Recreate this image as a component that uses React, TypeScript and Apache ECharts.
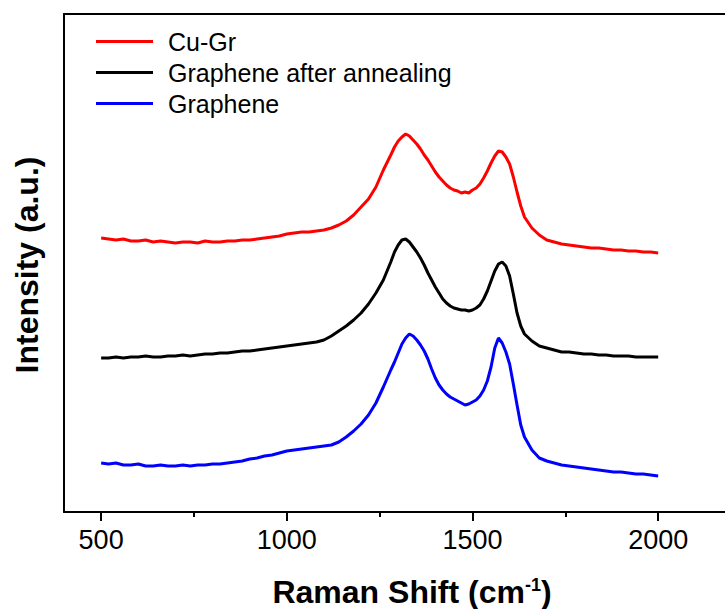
import React, { useEffect, useRef } from "react";
import * as echarts from "echarts";

const FONT = "'Liberation Sans', Arial, Helvetica, sans-serif";

const seriesNames = ["Cu-Gr", "Graphene after annealing", "Graphene"];
const seriesColors = ["#ff0000", "#000000", "#0000ff"];

const xTickLabels = [500, 1000, 1500, 2000];
const xMinorTicks = [750, 1250, 1750];

const shifts = [
  500, 520, 540, 560, 580, 600, 620, 640, 660, 680,
  700, 720, 740, 760, 780, 800, 820, 840, 860, 880,
  900, 920, 940, 960, 980, 1000, 1020, 1040, 1060, 1080,
  1100, 1120, 1140, 1160, 1180, 1200, 1220, 1240, 1260, 1280,
  1290, 1300, 1310, 1320, 1330, 1340, 1350, 1360, 1370, 1380,
  1390, 1400, 1410, 1420, 1430, 1440, 1450, 1460, 1470, 1480,
  1490, 1500, 1510, 1520, 1530, 1540, 1550, 1560, 1570, 1580,
  1590, 1600, 1610, 1620, 1630, 1640,
  1660, 1680, 1700, 1720, 1740, 1760, 1780, 1800, 1820, 1840,
  1860, 1880, 1900, 1920, 1940, 1960, 1980, 2000,
];

const cuGr = [
  274, 273, 272, 273, 271, 271, 272, 270, 271, 270,
  269, 270, 270, 269, 271, 270, 270, 271, 271, 272,
  272, 273, 274, 275, 276, 278, 279, 280, 280, 281,
  282, 284, 287, 291, 297, 305, 313, 325, 342, 357,
  365, 371, 375, 378, 376, 372, 368, 363, 357, 352,
  346, 340, 335, 331, 327, 324, 322, 321, 319, 320,
  319, 322, 324, 328, 334, 341, 349, 356, 361, 360,
  355, 348, 335, 320, 306, 295,
  284, 277, 272, 270, 268, 267, 266, 265, 264, 264,
  263, 262, 262, 261, 261, 260, 260, 259,
];

const grapheneAnnealed = [
  154, 154, 155, 154, 155, 155, 156, 155, 155, 156,
  156, 157, 156, 157, 158, 158, 159, 159, 160, 161,
  161, 162, 163, 164, 165, 166, 167, 168, 169, 170,
  172, 176, 181, 186, 192, 199, 208, 219, 232, 250,
  260, 267, 272, 273, 270, 265, 260, 254, 247, 239,
  232, 225, 219, 213, 209, 206, 204, 203, 202, 202,
  201, 202, 204, 207, 213, 221, 231, 241, 248, 250,
  246, 236, 218, 199, 186, 178,
  171, 166, 164, 162, 160, 160, 159, 158, 158, 157,
  157, 156, 156, 156, 155, 155, 155, 155,
];

const graphene = [
  49, 48, 49, 47, 47, 48, 46, 46, 47, 46,
  46, 47, 46, 47, 47, 48, 48, 49, 50, 51,
  53, 54, 56, 57, 59, 61, 62, 63, 64, 65,
  66, 67, 70, 75, 81, 88, 97, 109, 125, 142,
  150, 159, 168, 174, 178, 176, 172, 167, 161, 153,
  143, 134, 127, 122, 118, 115, 113, 111, 109, 107,
  108, 110, 112, 116, 122, 131, 145, 164, 174, 169,
  160, 148, 128, 107, 87, 75,
  62, 54, 51, 49, 47, 46, 45, 44, 43, 42,
  41, 40, 40, 39, 38, 38, 37, 36,
];

const seriesValues = [cuGr, grapheneAnnealed, graphene];

export default function App() {
  const ref = useRef<HTMLDivElement>(null);

  useEffect(() => {
    if (!ref.current) return;
    const chart = echarts.init(ref.current, undefined, { renderer: "svg" });
    const axisLine = { show: true, lineStyle: { color: "#000", width: 2 } };
    chart.setOption({
      animation: false,
      backgroundColor: "#ffffff",
      grid: { left: 64, right: 0, top: 14, bottom: 97, containLabel: false },
      xAxis: [
        {
          type: "value",
          min: 400,
          max: 2180,
          position: "bottom",
          axisLine,
          splitLine: { show: false },
          axisTick: {
            show: true,
            length: 9,
            inside: false,
            customValues: xTickLabels,
            lineStyle: { color: "#000", width: 2 },
          },
          axisLabel: {
            show: true,
            customValues: xTickLabels,
            formatter: (v: number) => String(v),
            fontSize: 27,
            fontFamily: FONT,
            color: "#000",
            margin: 14,
          },
        },
        {
          type: "value",
          min: 400,
          max: 2180,
          position: "bottom",
          axisLine: { show: false },
          splitLine: { show: false },
          axisTick: {
            show: true,
            length: 5,
            customValues: xMinorTicks,
            lineStyle: { color: "#000", width: 2 },
          },
          axisLabel: { show: false },
        },
        {
          type: "value",
          min: 400,
          max: 2180,
          position: "top",
          axisLine,
          splitLine: { show: false },
          axisTick: { show: false },
          axisLabel: { show: false },
        },
      ],
      yAxis: {
        type: "value",
        min: 0,
        max: 498,
        axisLine,
        axisTick: { show: false },
        axisLabel: { show: false },
        splitLine: { show: false },
      },
      legend: {
        orient: "vertical",
        left: 96,
        top: 26,
        padding: 0,
        icon: "rect",
        itemWidth: 57,
        itemHeight: 3,
        itemGap: 0,
        data: seriesNames,
        textStyle: {
          fontSize: 25,
          fontFamily: FONT,
          color: "#000",
          lineHeight: 31,
          padding: [0, 0, 0, 10],
        },
      },
      graphic: [
        {
          type: "text",
          x: 412,
          y: 592,
          style: {
            text: "{a|Raman Shift (cm}{b|-1}{a|)}",
            textAlign: "center",
            textVerticalAlign: "middle",
            rich: {
              a: { fontSize: 32, fontWeight: "bold", fontFamily: FONT, fill: "#000", color: "#000" },
              b: {
                fontSize: 18,
                fontWeight: "bold",
                fontFamily: FONT,
                fill: "#000",
                color: "#000",
                verticalAlign: "top",
                padding: [0, 0, 14, 0],
              },
            },
          },
        },
        {
          type: "text",
          x: 27,
          y: 265,
          rotation: Math.PI / 2,
          style: {
            text: "Intensity (a.u.)",
            fontSize: 32,
            fontWeight: "bold",
            fontFamily: FONT,
            fill: "#000",
            textAlign: "center",
            textVerticalAlign: "middle",
          },
        },
      ],
      series: seriesNames.map((name, i) => ({
        name,
        type: "line",
        xAxisIndex: 0,
        yAxisIndex: 0,
        symbol: "none",
        showSymbol: false,
        smooth: false,
        data: shifts.map((s, j) => [s, seriesValues[i][j]]),
        lineStyle: { color: seriesColors[i], width: 3 },
        itemStyle: { color: seriesColors[i] },
      })),
    });
    return () => chart.dispose();
  }, []);

  return (
    <div
      style={{ position: "fixed", left: 0, top: 0, width: 725, height: 609, overflow: "hidden", background: "#fff" }}
    >
      <div ref={ref} style={{ width: 725, height: 609 }} />
    </div>
  );
}
